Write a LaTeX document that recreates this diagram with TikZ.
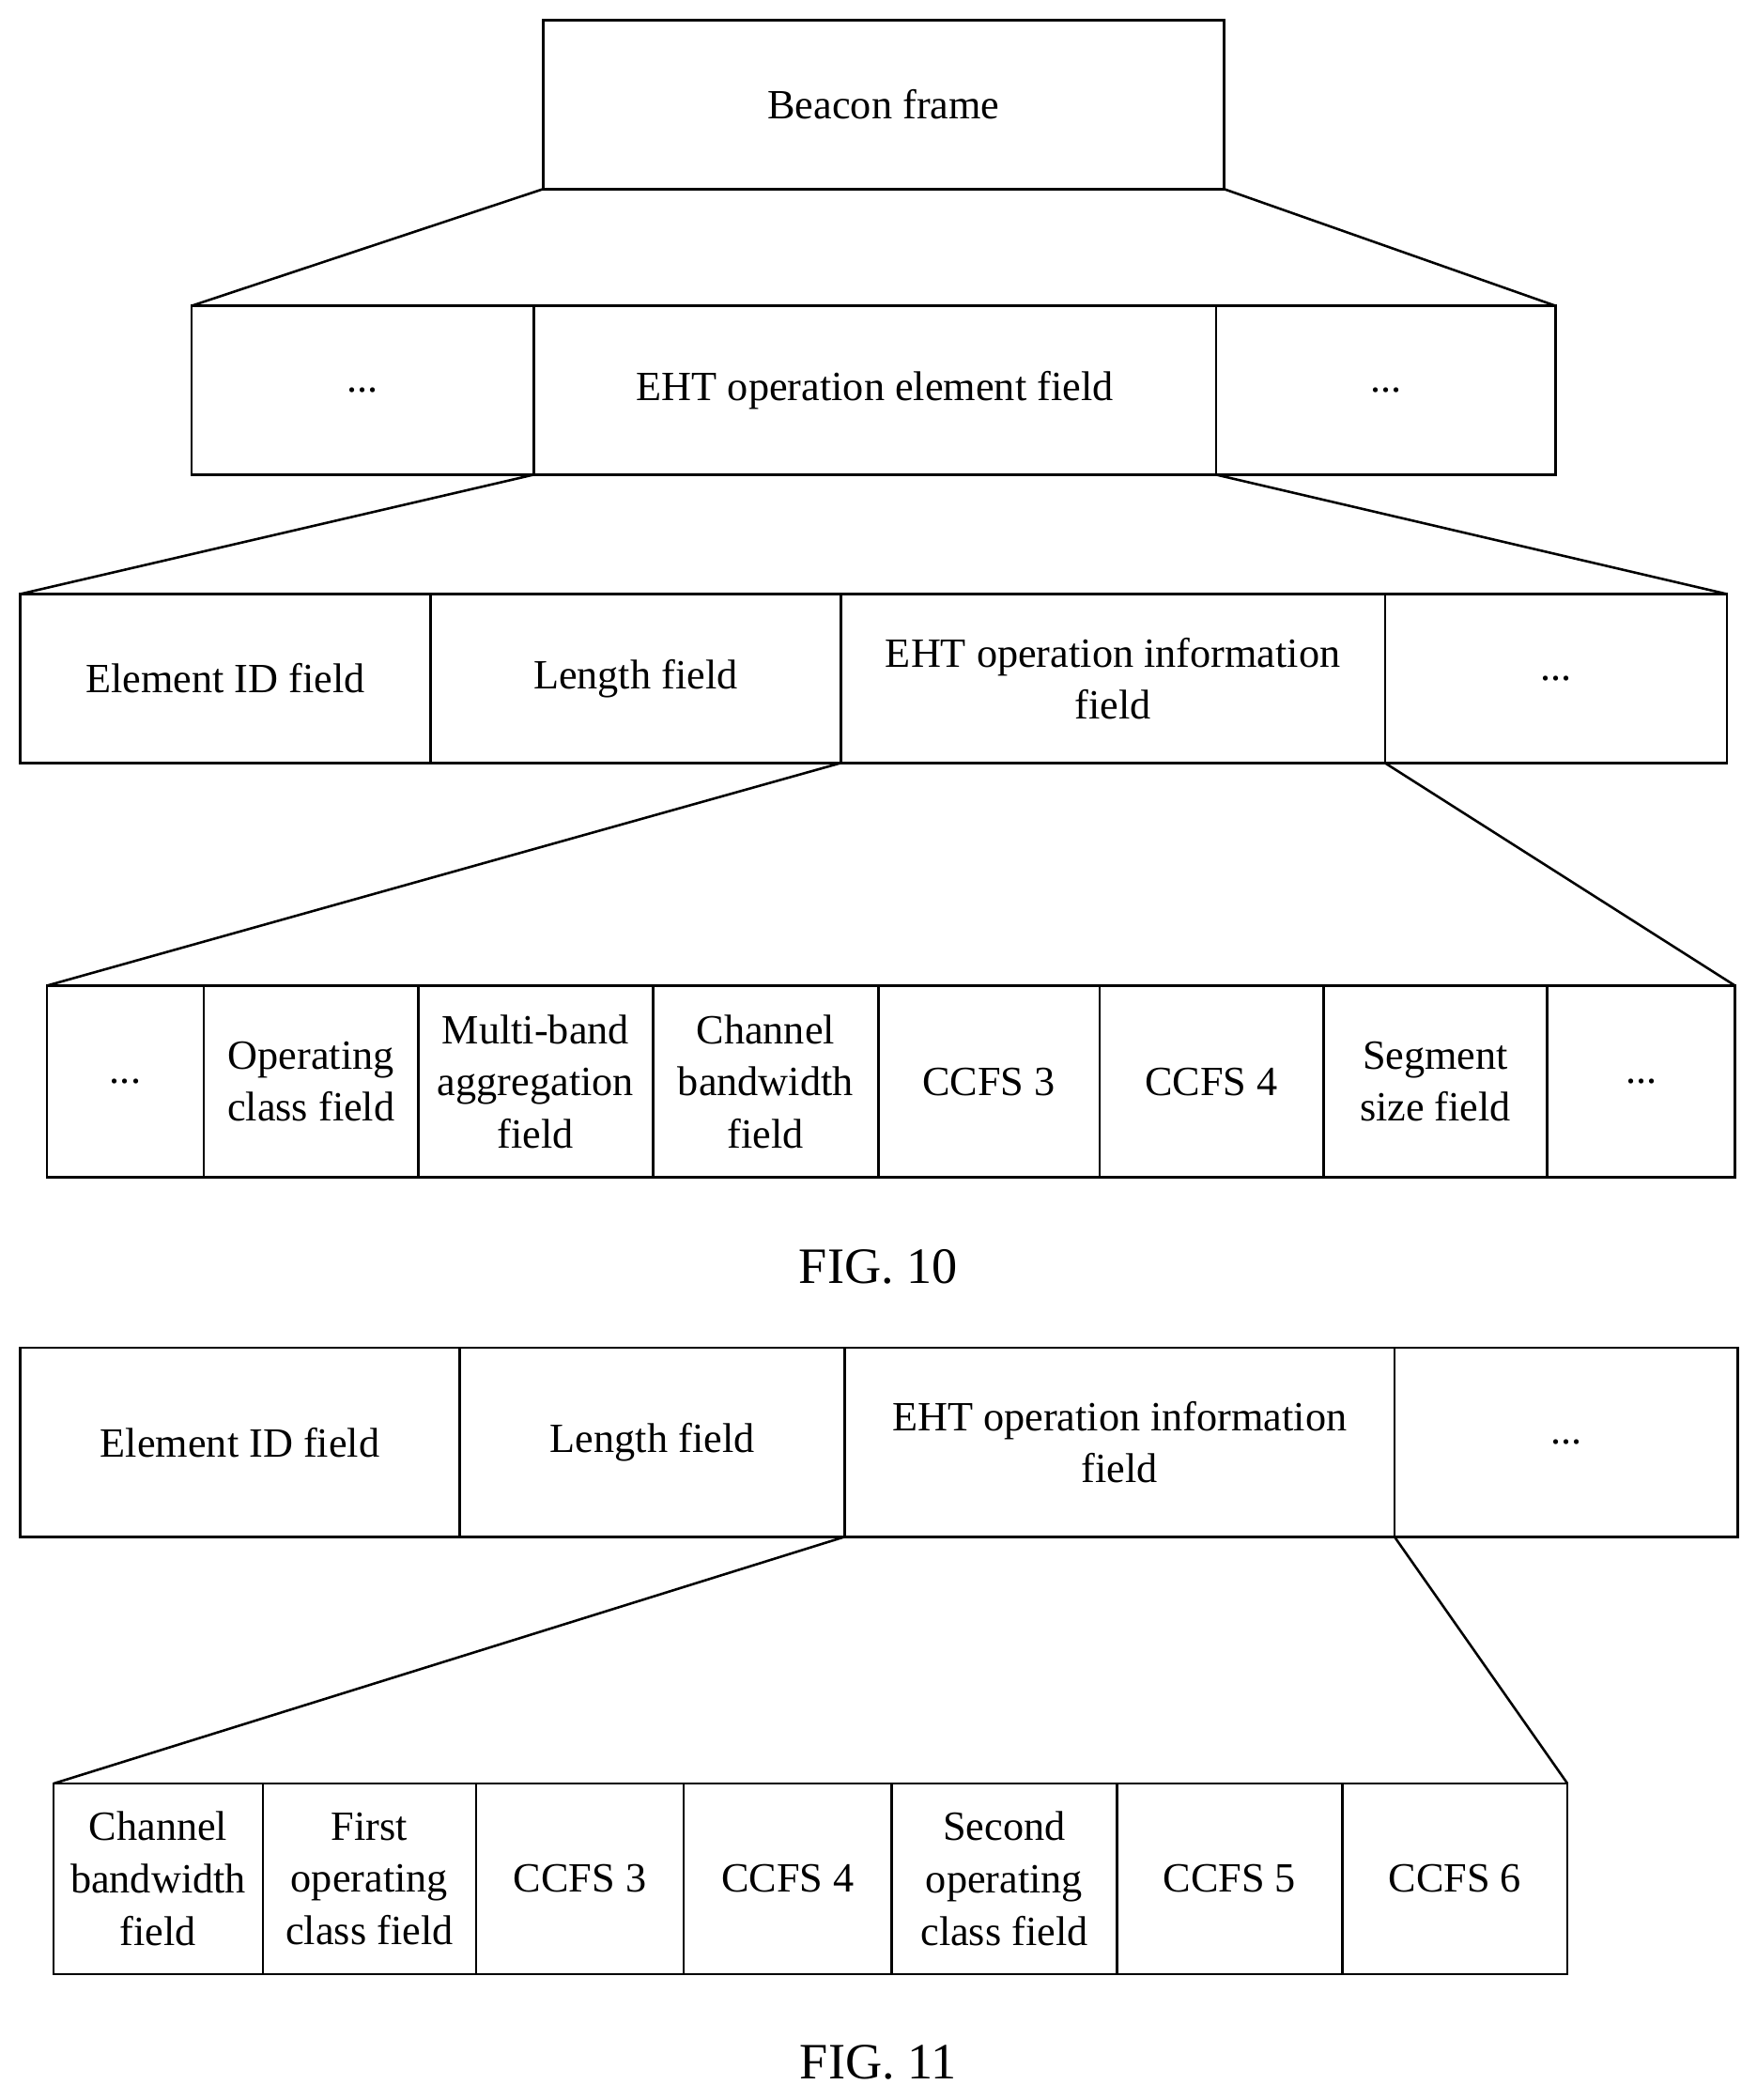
\documentclass[tikz,border=0pt]{standalone}
\usepackage{fontspec}
\setmainfont{Liberation Serif}
\begin{document}
\begin{tikzpicture}[x=1pt,y=-1pt,
  box/.style={draw,line width=1.8pt,inner sep=0pt,outer sep=0pt,anchor=north west,align=center,font=\fontsize{31}{39}\selectfont},
  ln/.style={line width=1.8pt},
  figcap/.style={font=\fontsize{38}{40}\selectfont}]
\useasboundingbox (0,0) rectangle (1310,1566);
% row 1
\node[box,minimum width=508pt,minimum height=126pt] (bf) at (405,15) {Beacon frame};
% row 2
\node[box,minimum width=255pt,minimum height=126pt] (r2a) at (143,228) {...};
\node[box,minimum width=509pt,minimum height=126pt] (r2b) at (398,228) {EHT operation element field};
\node[box,minimum width=253pt,minimum height=126pt] (r2c) at (907,228) {...};
% row 3
\node[box,minimum width=306pt,minimum height=126pt] (r3a) at (15,443) {Element ID field};
\node[box,minimum width=306pt,minimum height=126pt] (r3b) at (321,443) {Length field};
\node[box,minimum width=406pt,minimum height=126pt] (r3c) at (627,443) {EHT operation information\\field};
\node[box,minimum width=255pt,minimum height=126pt] (r3d) at (1033,443) {...};
% row 4
\node[box,minimum width=117pt,minimum height=143pt] (r4a) at (35,735) {...};
\node[box,minimum width=160pt,minimum height=143pt] (r4b) at (152,735) {Operating\\class field};
\node[box,minimum width=175pt,minimum height=143pt] (r4c) at (312,735) {Multi-band\\aggregation\\field};
\node[box,minimum width=168pt,minimum height=143pt] (r4d) at (487,735) {Channel\\bandwidth\\field};
\node[box,minimum width=165pt,minimum height=143pt] (r4e) at (655,735) {CCFS 3};
\node[box,minimum width=167pt,minimum height=143pt] (r4f) at (820,735) {CCFS 4};
\node[box,minimum width=167pt,minimum height=143pt] (r4g) at (987,735) {Segment\\size field};
\node[box,minimum width=140pt,minimum height=143pt] (r4h) at (1154,735) {...};
\node[figcap] (f10) at (655,945) {FIG. 10};
\draw[ln] (bf.south west) -- (r2a.north west);
\draw[ln] (bf.south east) -- (r2c.north east);
\draw[ln] (r2b.south west) -- (r3a.north west);
\draw[ln] (r2b.south east) -- (r3d.north east);
\draw[ln] (r3c.south west) -- (r4a.north west);
\draw[ln] (r3c.south east) -- (r4h.north east);
% row 5
\node[box,minimum width=328pt,minimum height=141pt] (r5a) at (15,1005) {Element ID field};
\node[box,minimum width=287pt,minimum height=141pt] (r5b) at (343,1005) {Length field};
\node[box,minimum width=410pt,minimum height=141pt] (r5c) at (630,1005) {EHT operation information\\field};
\node[box,minimum width=256pt,minimum height=141pt] (r5d) at (1040,1005) {...};
% row 6
\node[box,minimum width=156pt,minimum height=142pt] (r6a) at (40,1330) {Channel\\bandwidth\\field};
\node[box,minimum width=159pt,minimum height=142pt] (r6b) at (196,1330) {First\\operating\\class field};
\node[box,minimum width=155pt,minimum height=142pt] (r6c) at (355,1330) {CCFS 3};
\node[box,minimum width=155pt,minimum height=142pt] (r6d) at (510,1330) {CCFS 4};
\node[box,minimum width=168pt,minimum height=142pt] (r6e) at (665,1330) {Second\\operating\\class field};
\node[box,minimum width=168pt,minimum height=142pt] (r6f) at (833,1330) {CCFS 5};
\node[box,minimum width=168pt,minimum height=142pt] (r6g) at (1001,1330) {CCFS 6};
\node[figcap] (f11) at (655,1538) {FIG. 11};
\draw[ln] (r5c.south west) -- (r6a.north west);
\draw[ln] (r5c.south east) -- (r6g.north east);
\end{tikzpicture}
\end{document}
